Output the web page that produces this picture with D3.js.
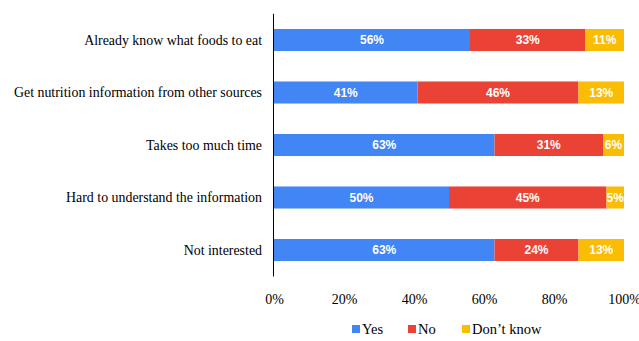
<!DOCTYPE html>
<html><head><meta charset="utf-8">
<script src="https://cdn.jsdelivr.net/npm/d3@7"></script>
<style>body{margin:0;background:#fff}</style>
</head><body>
<svg id="c" width="639" height="341"></svg>
<script>
const categories = ["Already know what foods to eat","Get nutrition information from other sources","Takes too much time","Hard to understand the information","Not interested"];
const seriesNames = ["Yes","No","Don\u2019t know"];
const yes = [56,41,63,50,63];
const no = [33,46,31,45,24];
const dontKnow = [11,13,6,5,13];
const tickValues = [0,20,40,60,80,100];
const colors = ["#4285F4","#EA4335","#FBBC04"];

const svg = d3.select("#c");
const x = d3.scaleLinear().domain([0,100]).range([274,624]);
const y = d3.scaleBand().domain(categories).range([13.75,276.25]).paddingInner(0.58).paddingOuter(0.29);

const rows = categories.map((c,i)=>({cat:c, vals:[yes[i],no[i],dontKnow[i]]}));
rows.forEach(r=>{
  let acc=0;
  r.vals.forEach((v,k)=>{
    const x0=acc; acc+=v;
    svg.append("rect").attr("x",x(x0)).attr("y",y(r.cat)).attr("width",x(acc)-x(x0)).attr("height",y.bandwidth()).attr("fill",colors[k]);
    svg.append("text").attr("x",(x(x0)+x(acc))/2).attr("y",y(r.cat)+y.bandwidth()/2).attr("dy","0.36em")
      .attr("text-anchor","middle").attr("fill","#fff").attr("font-family","Liberation Sans, Arial, sans-serif")
      .attr("font-weight","bold").attr("font-size","12px").text(v+"%");
  });
});

// category labels
svg.append("g").selectAll("text").data(categories).join("text")
  .attr("x",262).attr("y",d=>y(d)+y.bandwidth()/2).attr("dy","0.35em").attr("text-anchor","end")
  .attr("font-family","Liberation Serif, Times New Roman, serif").attr("font-size","13.9px").attr("fill","#000").text(d=>d);

// axis line
svg.append("line").attr("x1",273.5).attr("x2",273.5).attr("y1",13.75).attr("y2",276.5).attr("stroke","#000").attr("stroke-width",1);

// x axis ticks
const ax = svg.append("g").attr("transform","translate(0,290)")
  .call(d3.axisBottom(x).tickValues(tickValues).tickFormat(d=>d+"%").tickSize(0).tickPadding(4));
ax.select(".domain").remove();
ax.selectAll("text").attr("font-family","Liberation Serif, Times New Roman, serif").attr("font-size","14px").attr("fill","#000");

// legend
const legX = [352,408,462];
seriesNames.forEach((s,k)=>{
  svg.append("rect").attr("x",legX[k]).attr("y",325).attr("width",8).attr("height",8).attr("fill",colors[k]);
  svg.append("text").attr("x",legX[k]+10).attr("y",329).attr("dy","0.35em")
    .attr("font-family","Liberation Serif, Times New Roman, serif").attr("font-size","14.5px").attr("fill","#000").text(s);
});
</script>
</body></html>
